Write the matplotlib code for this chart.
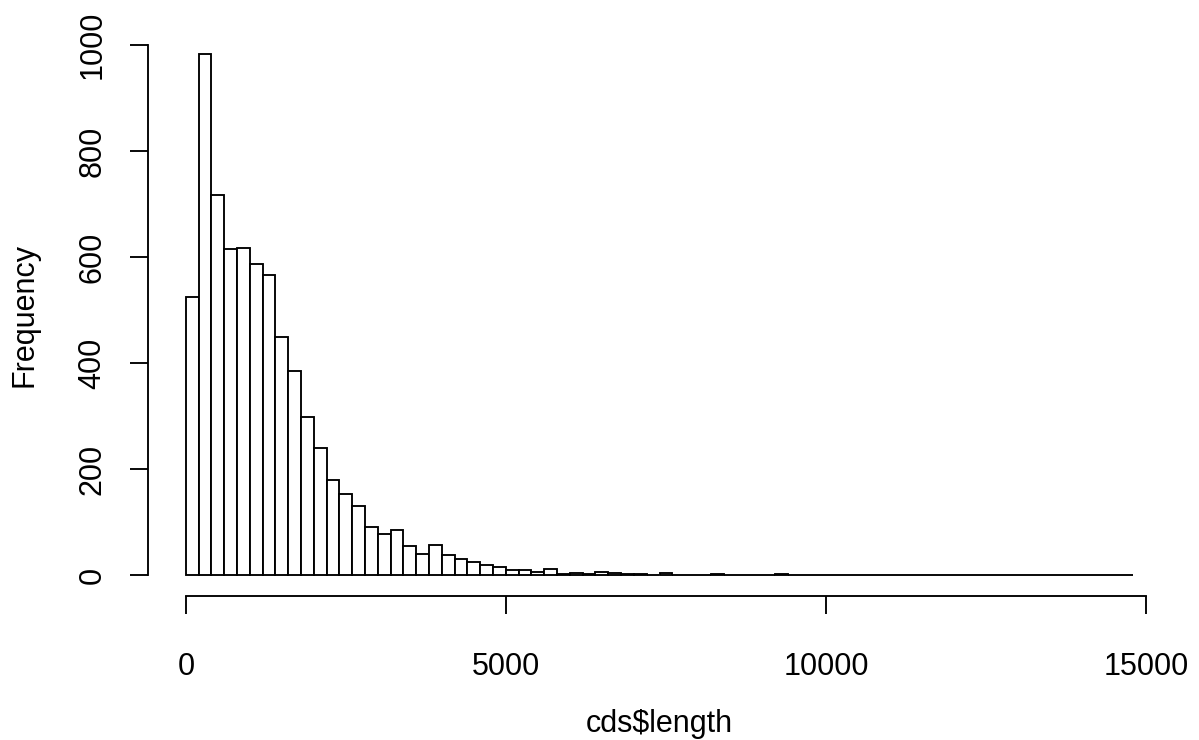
import matplotlib
matplotlib.use("Agg")
import matplotlib.pyplot as plt
import numpy as np

# Histogram of cds$length: bin width 200, bins from 0 to 14800
bin_width = 200
counts = [525, 983, 717, 615, 618, 588, 567, 449, 385, 299,
          241, 180, 154, 131, 92, 78, 85, 56, 41, 57,
          39, 31, 26, 20, 15, 10, 11, 6, 12, 3,
          5, 2, 6, 4, 2, 2, 1, 5, 0, 1,
          1, 2, 0, 0, 1, 0, 2, 1, 0, 1,
          0, 0, 0, 0, 0, 0, 1, 0, 0, 0,
          0, 1, 0, 0, 0, 0, 0, 0, 0, 0,
          0, 0, 0, 1]
x_ticks = [0, 5000, 10000, 15000]
y_ticks = [0, 200, 400, 600, 800, 1000]
x_label = "cds$length"
y_label = "Frequency"

plt.rcParams['font.family'] = ['Liberation Sans', 'DejaVu Sans']

W, H = 1199, 740
fig = plt.figure(figsize=(W / 100, H / 100), dpi=100)
left_px, right_px, top_px, bottom_px = 148, 1171, 33.2, 596.3
ax = fig.add_axes([left_px / W, 1 - bottom_px / H,
                   (right_px - left_px) / W, (bottom_px - top_px) / H])

lefts = np.arange(len(counts)) * bin_width
ax.bar(lefts, counts, width=bin_width, align='edge', color='white',
       edgecolor='black', linewidth=1.35)

xmax = len(counts) * bin_width
ymax = max(counts)
ax.set_xlim(-0.04 * xmax, xmax * 1.04)
ax.set_ylim(-0.04 * ymax, ymax * 1.04)

for s in ['top', 'right']:
    ax.spines[s].set_visible(False)
ax.spines['left'].set_bounds(0, 1000)
ax.spines['bottom'].set_bounds(0, 15000)
for s in ['left', 'bottom']:
    ax.spines[s].set_linewidth(1.35)

fs = 22
ax.set_xticks(x_ticks)
ax.set_xticklabels([str(v) for v in x_ticks])
ax.set_yticks(y_ticks)
ax.set_yticklabels([str(v) for v in y_ticks], rotation=90, va='center')
ax.tick_params(axis='both', length=13, width=1.35, labelsize=fs, direction='out')
ax.tick_params(axis='x', pad=27)
ax.tick_params(axis='y', pad=16)

ax.set_xlabel(x_label, fontsize=fs)
ax.set_ylabel(y_label, fontsize=fs)
ax.xaxis.set_label_coords(0.5, -(724 - bottom_px) / (bottom_px - top_px))
ax.xaxis.label.set_va('center')
ax.yaxis.set_label_coords(-(left_px - 24.5) / (right_px - left_px), 0.5)
ax.yaxis.label.set_va('center')

fig.savefig("out.png", dpi=100)
